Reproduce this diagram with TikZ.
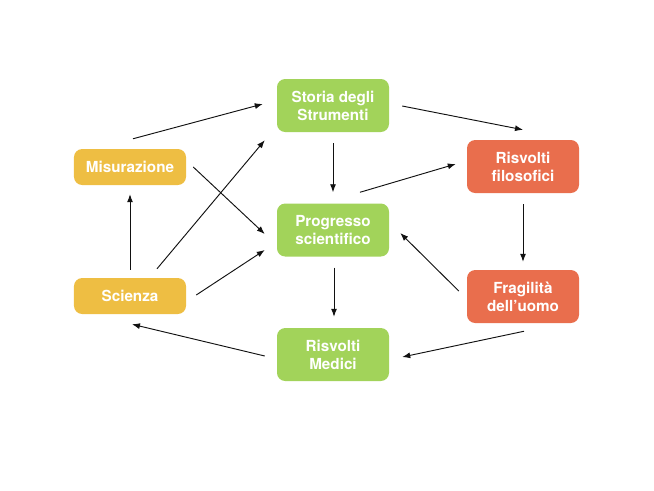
\documentclass[tikz,border=0pt]{standalone}
\usepackage{fontspec}
\setmainfont{TeX Gyre Heros}
\usepackage{xcolor}
\usepackage{tikz}
\usetikzlibrary{arrows.meta}
\definecolor{ink}{HTML}{111111}
\definecolor{sun}{HTML}{EEBE43}
\definecolor{leaf}{HTML}{A2D35A}
\definecolor{coral}{HTML}{E96E4D}

\begin{document}
\begin{tikzpicture}[x=0.03cm,y=-0.03cm,
  box/.style={rounded corners=7pt,minimum width=3.36cm,inner sep=0pt,text=white,
    font=\fontsize{13}{15.5}\selectfont\bfseries,align=center},
  two/.style={box,minimum height=1.59cm},
  one/.style={box,minimum height=1.08cm},
  arr/.style={-{Latex[length=2.4mm,width=1.8mm]},line width=0.8pt,ink}]
\useasboundingbox (0,0) rectangle (654,490);
\node[one,fill=sun] (mis) at (130,167) {Misurazione};
\node[one,fill=sun] (sci) at (130,296) {Scienza};
\node[two,fill=leaf] (sto) at (333,105.5) {Storia degli\\Strumenti};
\node[two,fill=leaf] (pro) at (333,230) {Progresso\\scientifico};
\node[two,fill=leaf] (med) at (333,354.5) {Risvolti\\Medici};
\node[two,fill=coral] (fil) at (523,166.5) {Risvolti\\filosofici};
\node[two,fill=coral] (fra) at (523,296.5) {Fragilità\\dell’uomo};
% left side
\draw[arr] ([shift={(3,-10)}]mis.north) -- ([shift={(-14,-1.5)}]sto.west);
\draw[arr] ([shift={(7,0)}]mis.east) -- ([shift={(-12,4)}]pro.west);
\draw[arr] ([shift={(27,-9)}]sci.north) -- ([shift={(-12,8)}]sto.south west);
\draw[arr] ([shift={(10,-1)}]sci.east) -- ([shift={(-12,20)}]pro.west);
\draw[arr] ([shift={(0,-8)}]sci.north) -- ([shift={(0,9)}]mis.south);
% middle column
\draw[arr] ([shift={(0,11)}]sto.south) -- ([shift={(0,-11)}]pro.north);
\draw[arr] ([shift={(1,11)}]pro.south) -- ([shift={(1,-11)}]med.north);
% right side
\draw[arr] ([shift={(13,0.5)}]sto.east) -- ([shift={(0,-10)}]fil.north);
\draw[arr] ([shift={(27,-11)}]pro.north) -- ([shift={(-11,-2.5)}]fil.west);
\draw[arr] ([shift={(0,11)}]fil.south) -- ([shift={(0,-8)}]fra.north);
\draw[arr] ([shift={(-8,-5.5)}]fra.west) -- ([shift={(11,3)}]pro.east);
\draw[arr] ([shift={(1,8)}]fra.south) -- ([shift={(13,2.5)}]med.east);
\draw[arr] ([shift={(-12,1.5)}]med.west) -- ([shift={(2,10)}]sci.south);
\end{tikzpicture}
\end{document}
